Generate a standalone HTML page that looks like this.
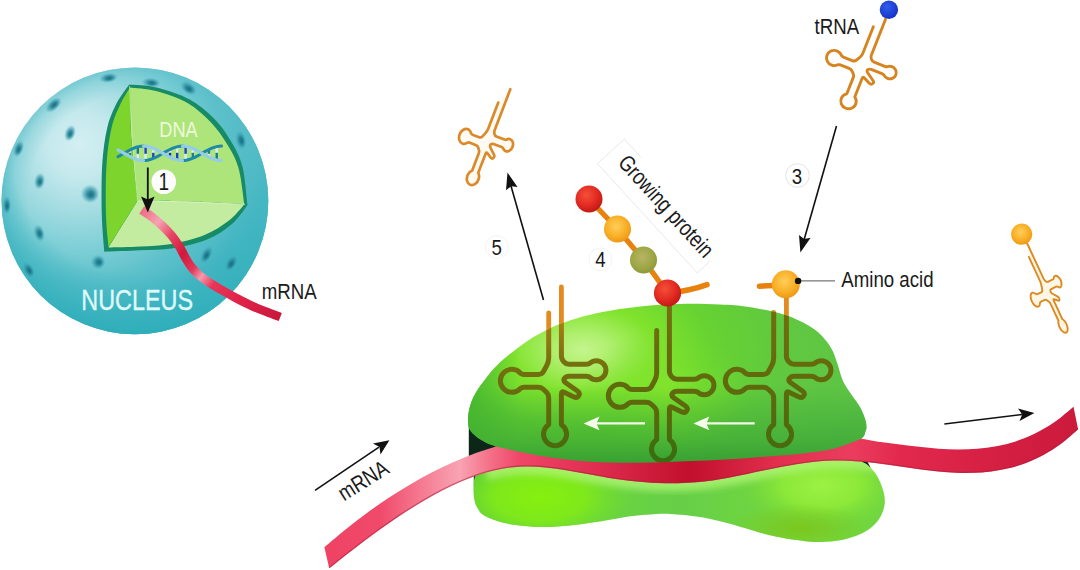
<!DOCTYPE html>
<html lang="en">
<head>
<meta charset="utf-8">
<title>Protein synthesis: transcription and translation</title>
<style>
html,body{margin:0;padding:0;background:#fff;}
body{width:1080px;height:570px;overflow:hidden;font-family:"Liberation Sans",sans-serif;}
svg{display:block;}
text{font-family:"Liberation Sans",sans-serif;}
</style>
</head>
<body>
<svg width="1080" height="570" viewBox="0 0 1080 570">
<defs>
  <radialGradient id="gSphere" gradientUnits="userSpaceOnUse" cx="82" cy="145" r="215" fx="80" fy="145">
    <stop offset="0" stop-color="#D3EFF2"/>
    <stop offset="0.15" stop-color="#C5E9ED"/>
    <stop offset="0.35" stop-color="#9BD9DF"/>
    <stop offset="0.5" stop-color="#7ACDD5"/>
    <stop offset="0.65" stop-color="#5CC0CA"/>
    <stop offset="0.82" stop-color="#49B8C4"/>
    <stop offset="1" stop-color="#34B1BD"/>
  </radialGradient>
  <radialGradient id="gSphereRim" gradientUnits="userSpaceOnUse" cx="134.9" cy="200.8" r="133.4">
    <stop offset="0" stop-color="#5FC2CC" stop-opacity="0"/>
    <stop offset="0.8" stop-color="#5FC2CC" stop-opacity="0"/>
    <stop offset="0.93" stop-color="#5CC0CA" stop-opacity="0.3"/>
    <stop offset="1" stop-color="#58BDC8" stop-opacity="0.6"/>
  </radialGradient>
  <radialGradient id="gSphereSh" gradientUnits="userSpaceOnUse" cx="135" cy="150" r="186">
    <stop offset="0" stop-color="#2FAFBB" stop-opacity="0"/>
    <stop offset="0.66" stop-color="#2FAFBB" stop-opacity="0"/>
    <stop offset="0.8" stop-color="#33B0BC" stop-opacity="0.45"/>
    <stop offset="1" stop-color="#2BADB9" stop-opacity="0.95"/>
  </radialGradient>
  <radialGradient id="gDimple" cx="0.5" cy="0.5" r="0.5" fx="0.56" fy="0.56">
    <stop offset="0" stop-color="#14677C" stop-opacity="0.95"/>
    <stop offset="0.35" stop-color="#1F7C90" stop-opacity="0.85"/>
    <stop offset="0.65" stop-color="#3197A8" stop-opacity="0.55"/>
    <stop offset="1" stop-color="#4FB0BE" stop-opacity="0"/>
  </radialGradient>
  <radialGradient id="gUpper" gradientUnits="userSpaceOnUse" cx="583" cy="350" r="290" gradientTransform="translate(583 350) scale(1 0.6) translate(-583 -350)">
    <stop offset="0" stop-color="#C4F58E"/>
    <stop offset="0.1" stop-color="#AEEF6C"/>
    <stop offset="0.25" stop-color="#80E32C"/>
    <stop offset="0.45" stop-color="#66D232"/>
    <stop offset="0.7" stop-color="#60C840"/>
    <stop offset="1" stop-color="#5DC446"/>
  </radialGradient>
  <linearGradient id="gUpperSh" gradientUnits="userSpaceOnUse" x1="0" y1="385" x2="0" y2="475">
    <stop offset="0" stop-color="#2E9A30" stop-opacity="0"/>
    <stop offset="0.6" stop-color="#2E9A30" stop-opacity="0.48"/>
    <stop offset="1" stop-color="#258C2C" stop-opacity="0.85"/>
  </linearGradient>
  <linearGradient id="gUpperL" gradientUnits="userSpaceOnUse" x1="466" y1="0" x2="520" y2="0">
    <stop offset="0" stop-color="#3FB02E" stop-opacity="0.7"/>
    <stop offset="1" stop-color="#3FB02E" stop-opacity="0"/>
  </linearGradient>
  <radialGradient id="gLowA" gradientUnits="userSpaceOnUse" cx="540" cy="497" r="95" gradientTransform="translate(540 497) scale(1 0.5) translate(-540 -497)">
    <stop offset="0" stop-color="#86F00E"/>
    <stop offset="0.5" stop-color="#80EA18" stop-opacity="0.9"/>
    <stop offset="1" stop-color="#6FDA30" stop-opacity="0"/>
  </radialGradient>
  <radialGradient id="gLowB" gradientUnits="userSpaceOnUse" cx="822" cy="486" r="80" gradientTransform="translate(822 486) scale(1 0.55) translate(-822 -486)">
    <stop offset="0" stop-color="#9CF244"/>
    <stop offset="0.5" stop-color="#8EEA38" stop-opacity="0.9"/>
    <stop offset="1" stop-color="#78DA3A" stop-opacity="0"/>
  </radialGradient>
  <radialGradient id="gLowC" gradientUnits="userSpaceOnUse" cx="800" cy="528" r="70" gradientTransform="translate(800 528) scale(1 0.35) translate(-800 -528)">
    <stop offset="0" stop-color="#7CC41A" stop-opacity="0.85"/>
    <stop offset="1" stop-color="#7CC41A" stop-opacity="0"/>
  </radialGradient>
  <filter id="fBlur" x="-20%" y="-50%" width="140%" height="200%"><feGaussianBlur stdDeviation="3.5"/></filter>
  <clipPath id="cLower"><path d="M473.80 484.00 C473.55 487.50 473.47 493.17 474.00 497.00 C474.53 500.83 475.17 503.83 477.00 507.00 C478.83 510.17 480.00 513.25 485.00 516.00 C490.00 518.75 497.83 521.67 507.00 523.50 C516.17 525.33 529.50 526.67 540.00 527.00 C550.50 527.33 560.67 526.33 570.00 525.50 C579.33 524.67 586.17 523.50 596.00 522.00 C605.83 520.50 620.00 517.75 629.00 516.50 C638.00 515.25 643.17 514.92 650.00 514.50 C656.83 514.08 661.67 513.58 670.00 514.00 C678.33 514.42 690.50 515.50 700.00 517.00 C709.50 518.50 715.17 519.92 727.00 523.00 C738.83 526.08 758.83 532.58 771.00 535.50 C783.17 538.42 791.83 539.42 800.00 540.50 C808.17 541.58 813.00 542.08 820.00 542.00 C827.00 541.92 835.25 541.33 842.00 540.00 C848.75 538.67 855.33 536.33 860.50 534.00 C865.67 531.67 869.65 528.92 873.00 526.00 C876.35 523.08 878.68 520.00 880.60 516.50 C882.52 513.00 883.93 508.75 884.50 505.00 C885.07 501.25 884.75 497.83 884.00 494.00 C883.25 490.17 881.50 485.50 880.00 482.00 C878.50 478.50 876.70 475.47 875.00 473.00 C873.30 470.53 871.80 468.95 869.80 467.20 C867.80 465.45 867.97 464.53 863.00 462.50 C858.03 460.47 867.17 453.75 840.00 455.00 C812.83 456.25 746.67 468.83 700.00 470.00 C653.33 471.17 593.33 463.00 560.00 462.00 C526.67 461.00 513.00 462.67 500.00 464.00 C487.00 465.33 486.08 468.00 482.00 470.00 C477.92 472.00 476.87 473.67 475.50 476.00 C474.13 478.33 474.05 480.50 473.80 484.00 Z"/></clipPath>
  <linearGradient id="gLower" gradientUnits="userSpaceOnUse" x1="474" y1="0" x2="884" y2="0">
    <stop offset="0" stop-color="#5CCB3A"/>
    <stop offset="0.15" stop-color="#6CD83A"/>
    <stop offset="0.5" stop-color="#66CF48"/>
    <stop offset="0.8" stop-color="#74D83C"/>
    <stop offset="1" stop-color="#70D640"/>
  </linearGradient>
  <linearGradient id="gRib" gradientUnits="userSpaceOnUse" x1="324" y1="0" x2="1078" y2="0">
    <stop offset="0" stop-color="#EF4265"/>
    <stop offset="0.074" stop-color="#F04A6A"/>
    <stop offset="0.135" stop-color="#F57F95"/>
    <stop offset="0.18" stop-color="#F9A3B3"/>
    <stop offset="0.22" stop-color="#F47088"/>
    <stop offset="0.26" stop-color="#EF4668"/>
    <stop offset="0.366" stop-color="#DE2C4E"/>
    <stop offset="0.485" stop-color="#C10F2D"/>
    <stop offset="0.605" stop-color="#E2304F"/>
    <stop offset="0.70" stop-color="#EA3D5E"/>
    <stop offset="0.764" stop-color="#E2294D"/>
    <stop offset="0.897" stop-color="#D41F42"/>
    <stop offset="1" stop-color="#CC1A3C"/>
  </linearGradient>
  <linearGradient id="gRibN" gradientUnits="userSpaceOnUse" x1="141" y1="210" x2="282" y2="316">
    <stop offset="0" stop-color="#EC6A82"/>
    <stop offset="0.12" stop-color="#F6A3B2"/>
    <stop offset="0.22" stop-color="#E84666"/>
    <stop offset="0.34" stop-color="#D2183B"/>
    <stop offset="0.44" stop-color="#E33A5B"/>
    <stop offset="0.5" stop-color="#F69AAC"/>
    <stop offset="0.58" stop-color="#E83557"/>
    <stop offset="0.75" stop-color="#E02448"/>
    <stop offset="1" stop-color="#C8173C"/>
  </linearGradient>
  <radialGradient id="gRed" cx="0.4" cy="0.35" r="0.65">
    <stop offset="0" stop-color="#F5503A"/>
    <stop offset="0.6" stop-color="#E32B22"/>
    <stop offset="1" stop-color="#C21A16"/>
  </radialGradient>
  <radialGradient id="gYel" cx="0.45" cy="0.4" r="0.65">
    <stop offset="0" stop-color="#FFCF5A"/>
    <stop offset="0.6" stop-color="#F9AE26"/>
    <stop offset="1" stop-color="#EB9413"/>
  </radialGradient>
  <radialGradient id="gOlv" cx="0.45" cy="0.4" r="0.65">
    <stop offset="0" stop-color="#B7B565"/>
    <stop offset="0.6" stop-color="#9FA746"/>
    <stop offset="1" stop-color="#8B9636"/>
  </radialGradient>
  <radialGradient id="gBlue" cx="0.4" cy="0.35" r="0.65">
    <stop offset="0" stop-color="#2F5FEA"/>
    <stop offset="1" stop-color="#1533C8"/>
  </radialGradient>
  <linearGradient id="gT" gradientUnits="userSpaceOnUse" x1="0" y1="305" x2="0" y2="450">
    <stop offset="0" stop-color="#BC841A"/>
    <stop offset="0.18" stop-color="#9C7B14"/>
    <stop offset="0.4" stop-color="#76700F"/>
    <stop offset="0.75" stop-color="#5F680C"/>
    <stop offset="1" stop-color="#4A6A0E"/>
  </linearGradient>
  <linearGradient id="gT2" gradientUnits="userSpaceOnUse" x1="0" y1="310" x2="0" y2="462">
    <stop offset="0" stop-color="#747010"/>
    <stop offset="0.3" stop-color="#666B0E"/>
    <stop offset="0.7" stop-color="#5A680C"/>
    <stop offset="1" stop-color="#366E10"/>
  </linearGradient>
  <linearGradient id="gT3" gradientUnits="userSpaceOnUse" x1="0" y1="305" x2="0" y2="450">
    <stop offset="0" stop-color="#726F0F"/>
    <stop offset="0.5" stop-color="#62690D"/>
    <stop offset="1" stop-color="#486A0E"/>
  </linearGradient>
  <radialGradient id="gUpperG" gradientUnits="userSpaceOnUse" cx="668" cy="392" r="85" gradientTransform="translate(668 392) scale(1 0.75) translate(-668 -392)">
    <stop offset="0" stop-color="#8CEA2A" stop-opacity="0.7"/>
    <stop offset="0.5" stop-color="#80E42C" stop-opacity="0.35"/>
    <stop offset="1" stop-color="#74DC30" stop-opacity="0"/>
  </radialGradient>
  <clipPath id="cUpper"><path d="M468.00 421.00 C467.82 417.17 468.33 412.50 469.50 408.00 C470.67 403.50 472.42 398.75 475.00 394.00 C477.58 389.25 481.12 384.50 485.00 379.50 C488.88 374.50 492.73 369.33 498.30 364.00 C503.87 358.67 511.78 352.42 518.40 347.50 C525.02 342.58 530.42 338.67 538.00 334.50 C545.58 330.33 553.57 326.17 563.90 322.50 C574.23 318.83 587.32 315.17 600.00 312.50 C612.68 309.83 626.67 307.92 640.00 306.50 C653.33 305.08 666.67 304.33 680.00 304.00 C693.33 303.67 708.50 304.00 720.00 304.50 C731.50 305.00 738.00 305.20 749.00 307.00 C760.00 308.80 775.50 311.85 786.00 315.30 C796.50 318.75 805.50 323.68 812.00 327.70 C818.50 331.72 821.55 335.52 825.00 339.40 C828.45 343.28 830.62 346.90 832.70 351.00 C834.78 355.10 835.78 359.00 837.50 364.00 C839.22 369.00 840.75 376.00 843.00 381.00 C845.25 386.00 848.17 389.67 851.00 394.00 C853.83 398.33 857.67 402.92 860.00 407.00 C862.33 411.08 863.92 415.28 865.00 418.50 C866.08 421.72 866.40 424.17 866.50 426.30 C866.60 428.43 866.45 429.23 865.60 431.30 C864.75 433.37 865.67 435.25 861.40 438.70 C857.13 442.15 851.90 448.45 840.00 452.00 C828.10 455.55 813.33 457.33 790.00 460.00 C766.67 462.67 731.67 466.67 700.00 468.00 C668.33 469.33 626.67 469.33 600.00 468.00 C573.33 466.67 557.33 463.60 540.00 460.00 C522.67 456.40 505.63 449.63 496.00 446.40 C486.37 443.17 486.43 443.17 482.20 440.60 C477.97 438.03 472.97 434.27 470.60 431.00 C468.23 427.73 468.18 424.83 468.00 421.00 Z"/></clipPath>
  <clipPath id="cSphere"><circle cx="134.9" cy="200.8" r="133.4"/></clipPath>
</defs>

<!-- ================= NUCLEUS ================= -->
<g id="nucleus">
  <circle cx="134.9" cy="200.8" r="133.4" fill="url(#gSphere)"/>
  <circle cx="134.9" cy="200.8" r="133.4" fill="url(#gSphereRim)"/>
  <circle cx="134.9" cy="200.8" r="133.4" fill="url(#gSphereSh)"/>
  <g clip-path="url(#cSphere)" id="dimples">
    <ellipse cx="0" cy="0" rx="9.5" ry="5" transform="translate(108.3 77.8) rotate(-8)" fill="url(#gDimple)"/>
    <ellipse cx="0" cy="0" rx="10" ry="5.5" transform="translate(53.3 105) rotate(-42)" fill="url(#gDimple)"/>
    <ellipse cx="0" cy="0" rx="9.5" ry="5" transform="translate(151 82.5) rotate(5)" fill="url(#gDimple)"/>
    <ellipse cx="0" cy="0" rx="9.5" ry="6" transform="translate(188.5 88) rotate(35)" fill="url(#gDimple)"/>
    <ellipse cx="0" cy="0" rx="5.5" ry="10" transform="translate(240.8 140) rotate(-12)" fill="url(#gDimple)"/>
    <ellipse cx="0" cy="0" rx="5.5" ry="8.5" transform="translate(70 133) rotate(20)" fill="url(#gDimple)"/>
    <ellipse cx="0" cy="0" rx="5" ry="9" transform="translate(18.5 148.5) rotate(20)" fill="url(#gDimple)"/>
    <ellipse cx="0" cy="0" rx="5.5" ry="8.5" transform="translate(39.5 181) rotate(10)" fill="url(#gDimple)"/>
    <ellipse cx="0" cy="0" rx="9.5" ry="9.5" transform="translate(90 193.7) rotate(0)" fill="url(#gDimple)"/>
    <ellipse cx="0" cy="0" rx="4.5" ry="9.5" transform="translate(6.7 205) rotate(0)" fill="url(#gDimple)"/>
    <ellipse cx="0" cy="0" rx="5.5" ry="9" transform="translate(39 233) rotate(-15)" fill="url(#gDimple)"/>
    <ellipse cx="0" cy="0" rx="7.5" ry="7.5" transform="translate(98 262) rotate(-30)" fill="url(#gDimple)"/>
    <ellipse cx="0" cy="0" rx="5.5" ry="9" transform="translate(28.5 270) rotate(-28)" fill="url(#gDimple)"/>
    <ellipse cx="0" cy="0" rx="5.5" ry="10" transform="translate(206.5 254.5) rotate(28)" fill="url(#gDimple)"/>
    <ellipse cx="0" cy="0" rx="5.5" ry="9.5" transform="translate(231.3 263) rotate(32)" fill="url(#gDimple)"/>
  </g>
  <g id="wedge">
    <path d="M129.20 84.50 C133.75 85.00 146.48 85.03 156.50 87.50 C166.52 89.97 179.72 94.13 189.30 99.30 C198.88 104.47 207.13 111.63 214.00 118.50 C220.87 125.37 225.78 132.58 230.50 140.50 C235.22 148.42 239.47 155.25 242.30 166.00 C245.13 176.75 246.63 198.50 247.50 205.00 L247.50 205.00 C244.92 208.17 238.75 218.25 232.00 224.00 C225.25 229.75 216.83 235.47 207.00 239.50 C197.17 243.53 184.17 246.40 173.00 248.20 C161.83 250.00 151.45 249.72 140.00 250.30 C128.55 250.88 110.25 251.47 104.30 251.70 L104.30 251.70 C103.88 245.58 102.15 229.45 101.80 215.00 C101.45 200.55 101.30 179.50 102.20 165.00 C103.10 150.50 104.82 138.25 107.20 128.00 C109.58 117.75 112.83 110.75 116.50 103.50 C120.17 96.25 127.08 87.67 129.20 84.50 Z" fill="#178A66"/>
    <path d="M130.00 87.50 C134.33 88.08 146.42 88.42 156.00 91.00 C165.58 93.58 178.33 97.75 187.50 103.00 C196.67 108.25 204.42 115.67 211.00 122.50 C217.58 129.33 222.42 136.42 227.00 144.00 C231.58 151.58 235.62 158.00 238.50 168.00 C241.38 178.00 243.33 198.00 244.30 204.00 L244.30 204.00 C235.25 203.58 207.80 202.03 190.00 201.50 C172.20 200.97 146.25 200.92 137.50 200.80 L137.50 200.80 C136.50 190.67 132.75 158.88 131.50 140.00 C130.25 121.12 130.25 96.25 130.00 87.50 Z" fill="#ADE57A"/>
    <path d="M137.50 200.80 C146.25 200.92 172.20 200.88 190.00 201.50 C207.80 202.12 235.25 204.00 244.30 204.50 L244.30 204.50 C241.75 207.17 235.63 215.42 229.00 220.50 C222.37 225.58 214.08 231.08 204.50 235.00 C194.92 238.92 182.25 242.08 171.50 244.00 C160.75 245.92 150.50 245.92 140.00 246.50 C129.50 247.08 113.75 247.33 108.50 247.50 L108.50 247.50 C113.33 239.72 132.67 208.58 137.50 200.80 Z" fill="#C3ECA0"/>
    <path d="M130.00 87.50 C130.25 96.25 130.25 121.12 131.50 140.00 C132.75 158.88 136.50 190.67 137.50 200.80 L137.50 200.80 C132.67 208.50 113.33 239.30 108.50 247.00 L108.50 247.00 C108.08 241.67 106.33 228.67 106.00 215.00 C105.67 201.33 105.58 179.50 106.50 165.00 C107.42 150.50 109.25 138.00 111.50 128.00 C113.75 118.00 116.92 111.75 120.00 105.00 C123.08 98.25 128.33 90.42 130.00 87.50 Z" fill="#7DD42D"/>
    <path d="M129.5 86 Q131.5 140 137.5 200.8" stroke="#C9F0A8" stroke-width="0.8" fill="none" opacity="0.8"/>
    <path d="M137.5 200.8 Q190 201.5 245 204.3" stroke="#D6F3BC" stroke-width="1" fill="none" opacity="0.9"/>
  </g>
  <g id="dna" fill="none"><line x1="130" y1="150.0" x2="130" y2="156.6" stroke="#D9EEF4" stroke-width="2.4"/><line x1="130" y1="152.8" x2="130" y2="156.6" stroke="#1C7F95" stroke-width="2.4"/><line x1="137.8" y1="146.8" x2="137.8" y2="159.8" stroke="#D9EEF4" stroke-width="2.4"/><line x1="137.8" y1="146.8" x2="137.8" y2="153.8" stroke="#17778C" stroke-width="2.4"/><line x1="145.6" y1="146.2" x2="145.6" y2="160.4" stroke="#D9EEF4" stroke-width="2.4"/><line x1="145.6" y1="146.2" x2="145.6" y2="153.8" stroke="#1F3FC0" stroke-width="2.4"/><line x1="153.3" y1="148.2" x2="153.3" y2="158.4" stroke="#D9EEF4" stroke-width="2.4"/><line x1="153.3" y1="152.8" x2="153.3" y2="158.4" stroke="#1F3FC0" stroke-width="2.4"/><line x1="170" y1="149.5" x2="170" y2="157.1" stroke="#D9EEF4" stroke-width="2.4"/><line x1="170" y1="152.8" x2="170" y2="157.1" stroke="#1B2FA8" stroke-width="2.4"/><line x1="177.2" y1="146.7" x2="177.2" y2="159.9" stroke="#D9EEF4" stroke-width="2.4"/><line x1="177.2" y1="152.8" x2="177.2" y2="159.9" stroke="#1F3FC0" stroke-width="2.4"/><line x1="185.6" y1="146.3" x2="185.6" y2="160.3" stroke="#D9EEF4" stroke-width="2.4"/><line x1="185.6" y1="146.3" x2="185.6" y2="153.8" stroke="#1F3FC0" stroke-width="2.4"/><line x1="192.8" y1="148.4" x2="192.8" y2="158.2" stroke="#D9EEF4" stroke-width="2.4"/><line x1="192.8" y1="152.8" x2="192.8" y2="158.2" stroke="#1C7F95" stroke-width="2.4"/><line x1="208.9" y1="149.5" x2="208.9" y2="157.1" stroke="#D9EEF4" stroke-width="2.4"/><line x1="208.9" y1="149.5" x2="208.9" y2="153.8" stroke="#1C7F95" stroke-width="2.4"/><line x1="216.7" y1="146.6" x2="216.7" y2="160.0" stroke="#D9EEF4" stroke-width="2.4"/><line x1="216.7" y1="152.8" x2="216.7" y2="160.0" stroke="#17778C" stroke-width="2.4"/><path d="M118.0 156.6 L119.6 155.8 L121.2 154.9 L122.8 154.0 L124.4 153.1 L126.0 152.2 L127.6 151.3 L129.2 150.4 L130.8 149.6 L132.3 148.8 L133.9 148.1 L135.5 147.5 L137.1 147.0 L138.7 146.6 L140.3 146.3 L141.9 146.2 L143.5 146.1" stroke="#1F8AA8" stroke-width="3" stroke-linecap="round"/><path d="M143.5 160.5 L145.9 160.4 L148.4 160.0 L150.8 159.3 L153.2 158.4 L155.7 157.3 L158.1 156.1 L160.6 154.7 L163.0 153.3 L165.4 151.9 L167.9 150.5 L170.3 149.3 L172.8 148.2 L175.2 147.3 L177.6 146.6 L180.1 146.2 L182.5 146.1" stroke="#1F8AA8" stroke-width="3" stroke-linecap="round"/><path d="M182.5 160.5 L184.9 160.4 L187.4 160.0 L189.8 159.3 L192.2 158.4 L194.7 157.3 L197.1 156.1 L199.6 154.7 L202.0 153.3 L204.4 151.9 L206.9 150.5 L209.3 149.3 L211.8 148.2 L214.2 147.3 L216.6 146.6 L219.1 146.2 L221.5 146.1" stroke="#1F8AA8" stroke-width="3" stroke-linecap="round"/><path d="M118.0 150.0 L119.6 150.8 L121.2 151.7 L122.8 152.6 L124.4 153.5 L126.0 154.4 L127.6 155.3 L129.2 156.2 L130.8 157.0 L132.3 157.8 L133.9 158.5 L135.5 159.1 L137.1 159.6 L138.7 160.0 L140.3 160.3 L141.9 160.4 L143.5 160.5" stroke="#93CDEA" stroke-width="3.2" stroke-linecap="round"/><path d="M143.5 146.1 L145.9 146.2 L148.4 146.6 L150.8 147.3 L153.2 148.2 L155.7 149.3 L158.1 150.5 L160.6 151.9 L163.0 153.3 L165.4 154.7 L167.9 156.1 L170.3 157.3 L172.8 158.4 L175.2 159.3 L177.6 160.0 L180.1 160.4 L182.5 160.5" stroke="#93CDEA" stroke-width="3.2" stroke-linecap="round"/><path d="M182.5 146.1 L184.9 146.2 L187.4 146.6 L189.8 147.3 L192.2 148.2 L194.7 149.3 L197.1 150.5 L199.6 151.9 L202.0 153.3 L204.4 154.7 L206.9 156.1 L209.3 157.3 L211.8 158.4 L214.2 159.3 L216.6 160.0 L219.1 160.4 L221.5 160.5" stroke="#93CDEA" stroke-width="3.2" stroke-linecap="round"/></g>
  <path d="M141.70 210.00 C143.42 211.17 148.40 214.22 152.00 217.00 C155.60 219.78 159.97 223.53 163.30 226.70 C166.63 229.87 169.30 232.67 172.00 236.00 C174.70 239.33 177.33 243.20 179.50 246.70 C181.67 250.20 183.08 253.70 185.00 257.00 C186.92 260.30 188.67 263.50 191.00 266.50 C193.33 269.50 195.83 272.25 199.00 275.00 C202.17 277.75 206.00 280.37 210.00 283.00 C214.00 285.63 218.67 288.30 223.00 290.80 C227.33 293.30 231.67 295.72 236.00 298.00 C240.33 300.28 244.72 302.50 249.00 304.50 C253.28 306.50 258.03 308.50 261.70 310.00 C265.37 311.50 267.90 312.33 271.00 313.50 C274.10 314.67 278.75 316.42 280.30 317.00" fill="none" stroke="url(#gRibN)" stroke-width="8.8"/>
  <line x1="147.8" y1="167.5" x2="147.8" y2="200" stroke="#111" stroke-width="1.8"/>
  <path d="M147.8 212.5 L141 196.5 L147.8 199.5 L154.6 196.5 Z" fill="#111"/>
  <circle cx="163.8" cy="181.7" r="12.3" fill="#FDFEFB"/>
  <text transform="translate(163.8 190) rotate(0) scale(0.83 1)" font-size="23" fill="#1a1a1a" text-anchor="middle" >1</text>
  <text transform="translate(159.2 136.7) rotate(0) scale(0.83 1)" font-size="22" fill="#EDF9DA" text-anchor="start" >DNA</text>
  <text transform="translate(81.3 310.2) rotate(0) scale(0.78 1)" font-size="30" fill="#DFFAFA" text-anchor="start" stroke="#DFFAFA" stroke-width="0.4">NUCLEUS</text>
</g>

<!-- ================= RIBOSOME ================= -->
<g id="ribosome">
  <path d="M468.8 422 L500 440 L500 472 L482 472 L478 486 L473.8 486 L473.8 470 L468.8 458 Z" fill="#0C2618"/>
  <path d="M855 452 L866 459 L870.5 467.5 L855 466 Z" fill="#0C2618"/>
  <g fill="none" stroke="#E38B1E" stroke-width="4.8" stroke-linejoin="round" stroke-linecap="round">
    <path d="M548.7 312.8 L548.7 358 Q548.7 362 546.5 366 L543.5 371.5 Q542 374.5 538 374.5 L524 374.5 Q522 374.5 520.5 373.3 A11.5 11.5 0 1 0 520.5 388.4 Q522 387.2 524 387.2 L538 387.2 Q541 387.2 543 389 L546.7 392.5 Q548.7 394.5 548.7 398 L548.7 424.6 A11.5 11.5 0 1 0 561.4 424.6 L561.4 394 Q561.4 391 564 392.2 L573.5 396.8 Q577.5 398.5 579 395.3 Q580.2 392.8 577.5 391 L566 383 Q562.8 380.5 564.5 378.3 Q566 376.3 569 376.3 L586 376.3 Q588 376.3 589.5 377 A9.6 9.6 0 1 0 589.5 363.5 Q588 364.2 586 364.2 L569 364.2 Q566 364.2 564 362 Q561.4 359.5 561.4 356 L561.4 287"/><path d="M656.7 330.5 L656.7 373 Q656.7 377 654.5 381 L651.5 386.5 Q650 389.5 646 389.5 L632 389.5 Q630 389.5 628.5 388.3 A11.5 11.5 0 1 0 628.5 403.4 Q630 402.2 632 402.2 L646 402.2 Q649 402.2 651 404 L654.7 407.5 Q656.7 409.5 656.7 413 L656.7 439.6 A11.5 11.5 0 1 0 669.4 439.6 L669.4 409 Q669.4 406 672 407.2 L681.5 411.8 Q685.5 413.5 687 410.3 Q688.2 407.8 685.5 406 L674 398 Q670.8 395.5 672.5 393.3 Q674 391.3 677 391.3 L694 391.3 Q696 391.3 697.5 392 A9.6 9.6 0 1 0 697.5 378.5 Q696 379.2 694 379.2 L677 379.2 Q674 379.2 672 377 Q669.4 374.5 669.4 371 L669.4 300"/><path d="M773.7 312.5 L773.7 358 Q773.7 362 771.5 366 L768.5 371.5 Q767 374.5 763 374.5 L749 374.5 Q747 374.5 745.5 373.3 A11.5 11.5 0 1 0 745.5 388.4 Q747 387.2 749 387.2 L763 387.2 Q766 387.2 768 389 L771.7 392.5 Q773.7 394.5 773.7 398 L773.7 424.6 A11.5 11.5 0 1 0 786.4 424.6 L786.4 394 Q786.4 391 789 392.2 L798.5 396.8 Q802.5 398.5 804 395.3 Q805.2 392.8 802.5 391 L791 383 Q787.8 380.5 789.5 378.3 Q791 376.3 794 376.3 L811 376.3 Q813 376.3 814.5 377 A9.6 9.6 0 1 0 814.5 363.5 Q813 364.2 811 364.2 L794 364.2 Q791 364.2 789 362 Q786.4 359.5 786.4 356 L786.4 290"/>
  </g>
  <path d="M473.80 484.00 C473.55 487.50 473.47 493.17 474.00 497.00 C474.53 500.83 475.17 503.83 477.00 507.00 C478.83 510.17 480.00 513.25 485.00 516.00 C490.00 518.75 497.83 521.67 507.00 523.50 C516.17 525.33 529.50 526.67 540.00 527.00 C550.50 527.33 560.67 526.33 570.00 525.50 C579.33 524.67 586.17 523.50 596.00 522.00 C605.83 520.50 620.00 517.75 629.00 516.50 C638.00 515.25 643.17 514.92 650.00 514.50 C656.83 514.08 661.67 513.58 670.00 514.00 C678.33 514.42 690.50 515.50 700.00 517.00 C709.50 518.50 715.17 519.92 727.00 523.00 C738.83 526.08 758.83 532.58 771.00 535.50 C783.17 538.42 791.83 539.42 800.00 540.50 C808.17 541.58 813.00 542.08 820.00 542.00 C827.00 541.92 835.25 541.33 842.00 540.00 C848.75 538.67 855.33 536.33 860.50 534.00 C865.67 531.67 869.65 528.92 873.00 526.00 C876.35 523.08 878.68 520.00 880.60 516.50 C882.52 513.00 883.93 508.75 884.50 505.00 C885.07 501.25 884.75 497.83 884.00 494.00 C883.25 490.17 881.50 485.50 880.00 482.00 C878.50 478.50 876.70 475.47 875.00 473.00 C873.30 470.53 871.80 468.95 869.80 467.20 C867.80 465.45 867.97 464.53 863.00 462.50 C858.03 460.47 867.17 453.75 840.00 455.00 C812.83 456.25 746.67 468.83 700.00 470.00 C653.33 471.17 593.33 463.00 560.00 462.00 C526.67 461.00 513.00 462.67 500.00 464.00 C487.00 465.33 486.08 468.00 482.00 470.00 C477.92 472.00 476.87 473.67 475.50 476.00 C474.13 478.33 474.05 480.50 473.80 484.00 Z" fill="url(#gLower)"/>
  <path d="M473.80 484.00 C473.55 487.50 473.47 493.17 474.00 497.00 C474.53 500.83 475.17 503.83 477.00 507.00 C478.83 510.17 480.00 513.25 485.00 516.00 C490.00 518.75 497.83 521.67 507.00 523.50 C516.17 525.33 529.50 526.67 540.00 527.00 C550.50 527.33 560.67 526.33 570.00 525.50 C579.33 524.67 586.17 523.50 596.00 522.00 C605.83 520.50 620.00 517.75 629.00 516.50 C638.00 515.25 643.17 514.92 650.00 514.50 C656.83 514.08 661.67 513.58 670.00 514.00 C678.33 514.42 690.50 515.50 700.00 517.00 C709.50 518.50 715.17 519.92 727.00 523.00 C738.83 526.08 758.83 532.58 771.00 535.50 C783.17 538.42 791.83 539.42 800.00 540.50 C808.17 541.58 813.00 542.08 820.00 542.00 C827.00 541.92 835.25 541.33 842.00 540.00 C848.75 538.67 855.33 536.33 860.50 534.00 C865.67 531.67 869.65 528.92 873.00 526.00 C876.35 523.08 878.68 520.00 880.60 516.50 C882.52 513.00 883.93 508.75 884.50 505.00 C885.07 501.25 884.75 497.83 884.00 494.00 C883.25 490.17 881.50 485.50 880.00 482.00 C878.50 478.50 876.70 475.47 875.00 473.00 C873.30 470.53 871.80 468.95 869.80 467.20 C867.80 465.45 867.97 464.53 863.00 462.50 C858.03 460.47 867.17 453.75 840.00 455.00 C812.83 456.25 746.67 468.83 700.00 470.00 C653.33 471.17 593.33 463.00 560.00 462.00 C526.67 461.00 513.00 462.67 500.00 464.00 C487.00 465.33 486.08 468.00 482.00 470.00 C477.92 472.00 476.87 473.67 475.50 476.00 C474.13 478.33 474.05 480.50 473.80 484.00 Z" fill="url(#gLowA)"/>
  <path d="M473.80 484.00 C473.55 487.50 473.47 493.17 474.00 497.00 C474.53 500.83 475.17 503.83 477.00 507.00 C478.83 510.17 480.00 513.25 485.00 516.00 C490.00 518.75 497.83 521.67 507.00 523.50 C516.17 525.33 529.50 526.67 540.00 527.00 C550.50 527.33 560.67 526.33 570.00 525.50 C579.33 524.67 586.17 523.50 596.00 522.00 C605.83 520.50 620.00 517.75 629.00 516.50 C638.00 515.25 643.17 514.92 650.00 514.50 C656.83 514.08 661.67 513.58 670.00 514.00 C678.33 514.42 690.50 515.50 700.00 517.00 C709.50 518.50 715.17 519.92 727.00 523.00 C738.83 526.08 758.83 532.58 771.00 535.50 C783.17 538.42 791.83 539.42 800.00 540.50 C808.17 541.58 813.00 542.08 820.00 542.00 C827.00 541.92 835.25 541.33 842.00 540.00 C848.75 538.67 855.33 536.33 860.50 534.00 C865.67 531.67 869.65 528.92 873.00 526.00 C876.35 523.08 878.68 520.00 880.60 516.50 C882.52 513.00 883.93 508.75 884.50 505.00 C885.07 501.25 884.75 497.83 884.00 494.00 C883.25 490.17 881.50 485.50 880.00 482.00 C878.50 478.50 876.70 475.47 875.00 473.00 C873.30 470.53 871.80 468.95 869.80 467.20 C867.80 465.45 867.97 464.53 863.00 462.50 C858.03 460.47 867.17 453.75 840.00 455.00 C812.83 456.25 746.67 468.83 700.00 470.00 C653.33 471.17 593.33 463.00 560.00 462.00 C526.67 461.00 513.00 462.67 500.00 464.00 C487.00 465.33 486.08 468.00 482.00 470.00 C477.92 472.00 476.87 473.67 475.50 476.00 C474.13 478.33 474.05 480.50 473.80 484.00 Z" fill="url(#gLowB)"/>
  <path d="M473.80 484.00 C473.55 487.50 473.47 493.17 474.00 497.00 C474.53 500.83 475.17 503.83 477.00 507.00 C478.83 510.17 480.00 513.25 485.00 516.00 C490.00 518.75 497.83 521.67 507.00 523.50 C516.17 525.33 529.50 526.67 540.00 527.00 C550.50 527.33 560.67 526.33 570.00 525.50 C579.33 524.67 586.17 523.50 596.00 522.00 C605.83 520.50 620.00 517.75 629.00 516.50 C638.00 515.25 643.17 514.92 650.00 514.50 C656.83 514.08 661.67 513.58 670.00 514.00 C678.33 514.42 690.50 515.50 700.00 517.00 C709.50 518.50 715.17 519.92 727.00 523.00 C738.83 526.08 758.83 532.58 771.00 535.50 C783.17 538.42 791.83 539.42 800.00 540.50 C808.17 541.58 813.00 542.08 820.00 542.00 C827.00 541.92 835.25 541.33 842.00 540.00 C848.75 538.67 855.33 536.33 860.50 534.00 C865.67 531.67 869.65 528.92 873.00 526.00 C876.35 523.08 878.68 520.00 880.60 516.50 C882.52 513.00 883.93 508.75 884.50 505.00 C885.07 501.25 884.75 497.83 884.00 494.00 C883.25 490.17 881.50 485.50 880.00 482.00 C878.50 478.50 876.70 475.47 875.00 473.00 C873.30 470.53 871.80 468.95 869.80 467.20 C867.80 465.45 867.97 464.53 863.00 462.50 C858.03 460.47 867.17 453.75 840.00 455.00 C812.83 456.25 746.67 468.83 700.00 470.00 C653.33 471.17 593.33 463.00 560.00 462.00 C526.67 461.00 513.00 462.67 500.00 464.00 C487.00 465.33 486.08 468.00 482.00 470.00 C477.92 472.00 476.87 473.67 475.50 476.00 C474.13 478.33 474.05 480.50 473.80 484.00 Z" fill="url(#gLowC)"/>
  <g clip-path="url(#cLower)"><path d="M886.52 464.49 C883.62 464.14 874.91 462.95 869.10 462.35 C863.30 461.76 857.49 461.22 851.69 460.92 C845.88 460.62 840.08 460.45 834.27 460.55 C828.47 460.65 822.66 461.00 816.86 461.51 C811.05 462.03 805.24 462.78 799.44 463.64 C793.63 464.50 787.83 465.56 782.02 466.65 C776.22 467.74 770.41 468.99 764.61 470.21 C758.80 471.42 753.00 472.73 747.19 473.94 C741.39 475.15 735.58 476.38 729.77 477.46 C723.97 478.54 718.16 479.58 712.36 480.39 C706.55 481.21 700.75 481.90 694.94 482.37 C689.14 482.84 683.33 483.12 677.53 483.24 C671.72 483.36 665.91 483.29 660.11 483.09 C654.30 482.89 648.50 482.52 642.69 482.03 C636.89 481.55 631.08 480.92 625.28 480.19 C619.47 479.46 613.67 478.59 607.86 477.65 C602.06 476.72 596.25 475.62 590.44 474.58 C584.64 473.53 578.83 472.37 573.03 471.38 C567.22 470.38 561.42 469.36 555.61 468.61 C549.81 467.85 544.00 467.16 538.20 466.83 C532.39 466.50 526.58 466.34 520.78 466.61 C514.97 466.89 509.17 467.49 503.36 468.48 C497.56 469.46 488.85 471.84 485.95 472.51" fill="none" stroke="#B4F678" stroke-width="16" opacity="0.75" filter="url(#fBlur)"/></g>
  <path d="M468.00 421.00 C467.82 417.17 468.33 412.50 469.50 408.00 C470.67 403.50 472.42 398.75 475.00 394.00 C477.58 389.25 481.12 384.50 485.00 379.50 C488.88 374.50 492.73 369.33 498.30 364.00 C503.87 358.67 511.78 352.42 518.40 347.50 C525.02 342.58 530.42 338.67 538.00 334.50 C545.58 330.33 553.57 326.17 563.90 322.50 C574.23 318.83 587.32 315.17 600.00 312.50 C612.68 309.83 626.67 307.92 640.00 306.50 C653.33 305.08 666.67 304.33 680.00 304.00 C693.33 303.67 708.50 304.00 720.00 304.50 C731.50 305.00 738.00 305.20 749.00 307.00 C760.00 308.80 775.50 311.85 786.00 315.30 C796.50 318.75 805.50 323.68 812.00 327.70 C818.50 331.72 821.55 335.52 825.00 339.40 C828.45 343.28 830.62 346.90 832.70 351.00 C834.78 355.10 835.78 359.00 837.50 364.00 C839.22 369.00 840.75 376.00 843.00 381.00 C845.25 386.00 848.17 389.67 851.00 394.00 C853.83 398.33 857.67 402.92 860.00 407.00 C862.33 411.08 863.92 415.28 865.00 418.50 C866.08 421.72 866.40 424.17 866.50 426.30 C866.60 428.43 866.45 429.23 865.60 431.30 C864.75 433.37 865.67 435.25 861.40 438.70 C857.13 442.15 851.90 448.45 840.00 452.00 C828.10 455.55 813.33 457.33 790.00 460.00 C766.67 462.67 731.67 466.67 700.00 468.00 C668.33 469.33 626.67 469.33 600.00 468.00 C573.33 466.67 557.33 463.60 540.00 460.00 C522.67 456.40 505.63 449.63 496.00 446.40 C486.37 443.17 486.43 443.17 482.20 440.60 C477.97 438.03 472.97 434.27 470.60 431.00 C468.23 427.73 468.18 424.83 468.00 421.00 Z" fill="url(#gUpper)"/>
  <path d="M468.00 421.00 C467.82 417.17 468.33 412.50 469.50 408.00 C470.67 403.50 472.42 398.75 475.00 394.00 C477.58 389.25 481.12 384.50 485.00 379.50 C488.88 374.50 492.73 369.33 498.30 364.00 C503.87 358.67 511.78 352.42 518.40 347.50 C525.02 342.58 530.42 338.67 538.00 334.50 C545.58 330.33 553.57 326.17 563.90 322.50 C574.23 318.83 587.32 315.17 600.00 312.50 C612.68 309.83 626.67 307.92 640.00 306.50 C653.33 305.08 666.67 304.33 680.00 304.00 C693.33 303.67 708.50 304.00 720.00 304.50 C731.50 305.00 738.00 305.20 749.00 307.00 C760.00 308.80 775.50 311.85 786.00 315.30 C796.50 318.75 805.50 323.68 812.00 327.70 C818.50 331.72 821.55 335.52 825.00 339.40 C828.45 343.28 830.62 346.90 832.70 351.00 C834.78 355.10 835.78 359.00 837.50 364.00 C839.22 369.00 840.75 376.00 843.00 381.00 C845.25 386.00 848.17 389.67 851.00 394.00 C853.83 398.33 857.67 402.92 860.00 407.00 C862.33 411.08 863.92 415.28 865.00 418.50 C866.08 421.72 866.40 424.17 866.50 426.30 C866.60 428.43 866.45 429.23 865.60 431.30 C864.75 433.37 865.67 435.25 861.40 438.70 C857.13 442.15 851.90 448.45 840.00 452.00 C828.10 455.55 813.33 457.33 790.00 460.00 C766.67 462.67 731.67 466.67 700.00 468.00 C668.33 469.33 626.67 469.33 600.00 468.00 C573.33 466.67 557.33 463.60 540.00 460.00 C522.67 456.40 505.63 449.63 496.00 446.40 C486.37 443.17 486.43 443.17 482.20 440.60 C477.97 438.03 472.97 434.27 470.60 431.00 C468.23 427.73 468.18 424.83 468.00 421.00 Z" fill="url(#gUpperG)"/>
  <path d="M468.00 421.00 C467.82 417.17 468.33 412.50 469.50 408.00 C470.67 403.50 472.42 398.75 475.00 394.00 C477.58 389.25 481.12 384.50 485.00 379.50 C488.88 374.50 492.73 369.33 498.30 364.00 C503.87 358.67 511.78 352.42 518.40 347.50 C525.02 342.58 530.42 338.67 538.00 334.50 C545.58 330.33 553.57 326.17 563.90 322.50 C574.23 318.83 587.32 315.17 600.00 312.50 C612.68 309.83 626.67 307.92 640.00 306.50 C653.33 305.08 666.67 304.33 680.00 304.00 C693.33 303.67 708.50 304.00 720.00 304.50 C731.50 305.00 738.00 305.20 749.00 307.00 C760.00 308.80 775.50 311.85 786.00 315.30 C796.50 318.75 805.50 323.68 812.00 327.70 C818.50 331.72 821.55 335.52 825.00 339.40 C828.45 343.28 830.62 346.90 832.70 351.00 C834.78 355.10 835.78 359.00 837.50 364.00 C839.22 369.00 840.75 376.00 843.00 381.00 C845.25 386.00 848.17 389.67 851.00 394.00 C853.83 398.33 857.67 402.92 860.00 407.00 C862.33 411.08 863.92 415.28 865.00 418.50 C866.08 421.72 866.40 424.17 866.50 426.30 C866.60 428.43 866.45 429.23 865.60 431.30 C864.75 433.37 865.67 435.25 861.40 438.70 C857.13 442.15 851.90 448.45 840.00 452.00 C828.10 455.55 813.33 457.33 790.00 460.00 C766.67 462.67 731.67 466.67 700.00 468.00 C668.33 469.33 626.67 469.33 600.00 468.00 C573.33 466.67 557.33 463.60 540.00 460.00 C522.67 456.40 505.63 449.63 496.00 446.40 C486.37 443.17 486.43 443.17 482.20 440.60 C477.97 438.03 472.97 434.27 470.60 431.00 C468.23 427.73 468.18 424.83 468.00 421.00 Z" fill="url(#gUpperSh)"/>
  <path d="M468.00 421.00 C467.82 417.17 468.33 412.50 469.50 408.00 C470.67 403.50 472.42 398.75 475.00 394.00 C477.58 389.25 481.12 384.50 485.00 379.50 C488.88 374.50 492.73 369.33 498.30 364.00 C503.87 358.67 511.78 352.42 518.40 347.50 C525.02 342.58 530.42 338.67 538.00 334.50 C545.58 330.33 553.57 326.17 563.90 322.50 C574.23 318.83 587.32 315.17 600.00 312.50 C612.68 309.83 626.67 307.92 640.00 306.50 C653.33 305.08 666.67 304.33 680.00 304.00 C693.33 303.67 708.50 304.00 720.00 304.50 C731.50 305.00 738.00 305.20 749.00 307.00 C760.00 308.80 775.50 311.85 786.00 315.30 C796.50 318.75 805.50 323.68 812.00 327.70 C818.50 331.72 821.55 335.52 825.00 339.40 C828.45 343.28 830.62 346.90 832.70 351.00 C834.78 355.10 835.78 359.00 837.50 364.00 C839.22 369.00 840.75 376.00 843.00 381.00 C845.25 386.00 848.17 389.67 851.00 394.00 C853.83 398.33 857.67 402.92 860.00 407.00 C862.33 411.08 863.92 415.28 865.00 418.50 C866.08 421.72 866.40 424.17 866.50 426.30 C866.60 428.43 866.45 429.23 865.60 431.30 C864.75 433.37 865.67 435.25 861.40 438.70 C857.13 442.15 851.90 448.45 840.00 452.00 C828.10 455.55 813.33 457.33 790.00 460.00 C766.67 462.67 731.67 466.67 700.00 468.00 C668.33 469.33 626.67 469.33 600.00 468.00 C573.33 466.67 557.33 463.60 540.00 460.00 C522.67 456.40 505.63 449.63 496.00 446.40 C486.37 443.17 486.43 443.17 482.20 440.60 C477.97 438.03 472.97 434.27 470.60 431.00 C468.23 427.73 468.18 424.83 468.00 421.00 Z" fill="url(#gUpperL)"/>
  <g clip-path="url(#cUpper)" fill="none" stroke-width="5" stroke-linejoin="round" stroke-linecap="round">
    <path d="M548.7 312.8 L548.7 358 Q548.7 362 546.5 366 L543.5 371.5 Q542 374.5 538 374.5 L524 374.5 Q522 374.5 520.5 373.3 A11.5 11.5 0 1 0 520.5 388.4 Q522 387.2 524 387.2 L538 387.2 Q541 387.2 543 389 L546.7 392.5 Q548.7 394.5 548.7 398 L548.7 424.6 A11.5 11.5 0 1 0 561.4 424.6 L561.4 394 Q561.4 391 564 392.2 L573.5 396.8 Q577.5 398.5 579 395.3 Q580.2 392.8 577.5 391 L566 383 Q562.8 380.5 564.5 378.3 Q566 376.3 569 376.3 L586 376.3 Q588 376.3 589.5 377 A9.6 9.6 0 1 0 589.5 363.5 Q588 364.2 586 364.2 L569 364.2 Q566 364.2 564 362 Q561.4 359.5 561.4 356 L561.4 287" stroke="url(#gT)"/><path d="M656.7 330.5 L656.7 373 Q656.7 377 654.5 381 L651.5 386.5 Q650 389.5 646 389.5 L632 389.5 Q630 389.5 628.5 388.3 A11.5 11.5 0 1 0 628.5 403.4 Q630 402.2 632 402.2 L646 402.2 Q649 402.2 651 404 L654.7 407.5 Q656.7 409.5 656.7 413 L656.7 439.6 A11.5 11.5 0 1 0 669.4 439.6 L669.4 409 Q669.4 406 672 407.2 L681.5 411.8 Q685.5 413.5 687 410.3 Q688.2 407.8 685.5 406 L674 398 Q670.8 395.5 672.5 393.3 Q674 391.3 677 391.3 L694 391.3 Q696 391.3 697.5 392 A9.6 9.6 0 1 0 697.5 378.5 Q696 379.2 694 379.2 L677 379.2 Q674 379.2 672 377 Q669.4 374.5 669.4 371 L669.4 300" stroke="url(#gT2)"/><path d="M773.7 312.5 L773.7 358 Q773.7 362 771.5 366 L768.5 371.5 Q767 374.5 763 374.5 L749 374.5 Q747 374.5 745.5 373.3 A11.5 11.5 0 1 0 745.5 388.4 Q747 387.2 749 387.2 L763 387.2 Q766 387.2 768 389 L771.7 392.5 Q773.7 394.5 773.7 398 L773.7 424.6 A11.5 11.5 0 1 0 786.4 424.6 L786.4 394 Q786.4 391 789 392.2 L798.5 396.8 Q802.5 398.5 804 395.3 Q805.2 392.8 802.5 391 L791 383 Q787.8 380.5 789.5 378.3 Q791 376.3 794 376.3 L811 376.3 Q813 376.3 814.5 377 A9.6 9.6 0 1 0 814.5 363.5 Q813 364.2 811 364.2 L794 364.2 Q791 364.2 789 362 Q786.4 359.5 786.4 356 L786.4 290" stroke="url(#gT3)"/>
  </g>
  <path d="M324.40 547.13 C327.97 544.13 338.70 534.87 345.85 529.13 C353.00 523.39 360.15 517.92 367.30 512.70 C374.45 507.48 381.60 502.52 388.75 497.81 C395.90 493.10 403.05 488.65 410.20 484.46 C417.35 480.26 424.50 476.31 431.65 472.62 C438.80 468.92 445.95 465.48 453.10 462.27 C460.25 459.07 467.40 456.06 474.55 453.41 C481.70 450.77 492.43 447.57 496.00 446.40 L496.00 446.40 C500.68 447.46 514.74 450.89 524.11 452.78 C533.48 454.68 542.85 456.43 552.22 457.79 C561.58 459.14 570.95 460.12 580.32 460.90 C589.69 461.68 599.06 462.15 608.43 462.47 C617.80 462.78 627.17 462.84 636.54 462.80 C645.91 462.76 655.28 462.52 664.65 462.24 C674.02 461.96 683.38 461.54 692.75 461.12 C702.12 460.69 711.49 460.22 720.86 459.69 C730.23 459.16 739.60 458.59 748.97 457.95 C758.34 457.31 767.71 456.62 777.08 455.84 C786.45 455.05 795.82 454.40 805.18 453.23 C814.55 452.06 823.92 451.25 833.29 448.83 C842.66 446.41 856.72 440.39 861.40 438.70 L861.40 438.70 C864.61 439.25 874.25 441.01 880.68 441.97 C887.11 442.94 893.54 443.67 899.96 444.48 C906.39 445.30 912.82 446.17 919.25 446.87 C925.67 447.57 932.10 448.25 938.53 448.69 C944.95 449.13 951.38 449.48 957.81 449.51 C964.24 449.53 970.66 449.39 977.09 448.86 C983.52 448.33 989.95 447.56 996.37 446.32 C1002.80 445.08 1009.23 443.53 1015.65 441.41 C1022.08 439.28 1028.51 436.77 1034.94 433.59 C1041.36 430.41 1047.79 426.82 1054.22 422.34 C1060.65 417.86 1070.29 409.31 1073.50 406.70 L1078.10 429.14 C1075.20 431.60 1066.49 439.58 1060.68 443.88 C1054.88 448.18 1049.07 451.78 1043.27 454.96 C1037.46 458.14 1031.66 460.71 1025.85 462.94 C1020.05 465.17 1014.24 466.91 1008.43 468.34 C1002.63 469.77 996.82 470.77 991.02 471.52 C985.21 472.28 979.41 472.66 973.60 472.86 C967.80 473.06 961.99 472.95 956.19 472.71 C950.38 472.48 944.58 471.99 938.77 471.44 C932.96 470.89 927.16 470.15 921.35 469.40 C915.55 468.65 909.74 467.78 903.94 466.96 C898.13 466.14 892.33 465.26 886.52 464.49 C880.72 463.72 874.91 462.95 869.10 462.35 C863.30 461.76 857.49 461.22 851.69 460.92 C845.88 460.62 840.08 460.45 834.27 460.55 C828.47 460.65 822.66 461.00 816.86 461.51 C811.05 462.03 805.24 462.78 799.44 463.64 C793.63 464.50 787.83 465.56 782.02 466.65 C776.22 467.74 770.41 468.99 764.61 470.21 C758.80 471.42 753.00 472.73 747.19 473.94 C741.39 475.15 735.58 476.38 729.77 477.46 C723.97 478.54 718.16 479.58 712.36 480.39 C706.55 481.21 700.75 481.90 694.94 482.37 C689.14 482.84 683.33 483.12 677.53 483.24 C671.72 483.36 665.91 483.29 660.11 483.09 C654.30 482.89 648.50 482.52 642.69 482.03 C636.89 481.55 631.08 480.92 625.28 480.19 C619.47 479.46 613.67 478.59 607.86 477.65 C602.06 476.72 596.25 475.62 590.44 474.58 C584.64 473.53 578.83 472.37 573.03 471.38 C567.22 470.38 561.42 469.36 555.61 468.61 C549.81 467.85 544.00 467.16 538.20 466.83 C532.39 466.50 526.58 466.34 520.78 466.61 C514.97 466.89 509.17 467.49 503.36 468.48 C497.56 469.46 491.75 470.85 485.95 472.51 C480.14 474.17 474.34 476.20 468.53 478.45 C462.72 480.71 456.92 483.28 451.11 486.05 C445.31 488.81 439.50 491.84 433.70 495.02 C427.89 498.21 422.09 501.60 416.28 505.14 C410.48 508.68 404.67 512.41 398.87 516.26 C393.06 520.11 387.25 524.13 381.45 528.26 C375.64 532.39 369.84 536.66 364.03 541.02 C358.23 545.38 352.42 549.87 346.62 554.42 C340.81 558.97 332.10 566.02 329.20 568.34 Z" fill="url(#gRib)"/>
  <path d="M1078.10 428.54 C1075.20 431.00 1066.49 438.98 1060.68 443.28 C1054.88 447.58 1049.07 451.18 1043.27 454.36 C1037.46 457.54 1031.66 460.11 1025.85 462.34 C1020.05 464.57 1014.24 466.31 1008.43 467.74 C1002.63 469.17 996.82 470.17 991.02 470.92 C985.21 471.68 979.41 472.06 973.60 472.26 C967.80 472.46 961.99 472.35 956.19 472.11 C950.38 471.88 944.58 471.39 938.77 470.84 C932.96 470.29 927.16 469.55 921.35 468.80 C915.55 468.05 909.74 467.18 903.94 466.36 C898.13 465.54 892.33 464.66 886.52 463.89 C880.72 463.12 874.91 462.35 869.10 461.75 C863.30 461.16 857.49 460.62 851.69 460.32 C845.88 460.02 840.08 459.85 834.27 459.95 C828.47 460.05 822.66 460.40 816.86 460.91 C811.05 461.43 805.24 462.18 799.44 463.04 C793.63 463.90 787.83 464.96 782.02 466.05 C776.22 467.14 770.41 468.39 764.61 469.61 C758.80 470.82 753.00 472.13 747.19 473.34 C741.39 474.55 735.58 475.78 729.77 476.86 C723.97 477.94 718.16 478.98 712.36 479.79 C706.55 480.61 700.75 481.30 694.94 481.77 C689.14 482.24 683.33 482.52 677.53 482.64 C671.72 482.76 665.91 482.69 660.11 482.49 C654.30 482.29 648.50 481.92 642.69 481.43 C636.89 480.95 631.08 480.32 625.28 479.59 C619.47 478.86 613.67 477.99 607.86 477.05 C602.06 476.12 596.25 475.02 590.44 473.98 C584.64 472.93 578.83 471.77 573.03 470.78 C567.22 469.78 561.42 468.76 555.61 468.01 C549.81 467.25 544.00 466.56 538.20 466.23 C532.39 465.90 526.58 465.74 520.78 466.01 C514.97 466.29 509.17 466.89 503.36 467.88 C497.56 468.86 491.75 470.25 485.95 471.91 C480.14 473.57 474.34 475.60 468.53 477.85 C462.72 480.11 456.92 482.68 451.11 485.45 C445.31 488.21 439.50 491.24 433.70 494.42 C427.89 497.61 422.09 501.00 416.28 504.54 C410.48 508.08 404.67 511.81 398.87 515.66 C393.06 519.51 387.25 523.53 381.45 527.66 C375.64 531.79 369.84 536.06 364.03 540.42 C358.23 544.78 352.42 549.27 346.62 553.82 C340.81 558.37 332.10 565.42 329.20 567.74" fill="none" stroke="#B01C3C" stroke-width="1.3" opacity="0.55"/>
  <g stroke="#F4FBEA" stroke-width="2.2" fill="#F4FBEA">
    <line x1="645" y1="423.4" x2="596" y2="423.4"/>
    <path d="M583.5 423.4 L599.5 416.6 L596.5 423.4 L599.5 430.2 Z" stroke="none"/>
    <line x1="754.7" y1="423.4" x2="706" y2="423.4"/>
    <path d="M693.4 423.4 L709.4 416.6 L706.4 423.4 L709.4 430.2 Z" stroke="none"/>
  </g>
</g>

<!-- ================= PROTEIN / AMINO ACIDS ================= -->
<g id="protein">
  <path d="M589 199 L617.5 229 L643.5 260 L667.5 293" stroke="#E8820F" stroke-width="5.3" fill="none" stroke-linecap="round"/>
  <path d="M667.5 293 Q690 291 707 284.7" stroke="#E8820F" stroke-width="5.5" fill="none" stroke-linecap="round"/>
  <circle cx="589" cy="199" r="13.5" fill="url(#gRed)"/>
  <circle cx="617.5" cy="229" r="13.5" fill="url(#gYel)"/>
  <circle cx="643.5" cy="260" r="13.5" fill="url(#gOlv)"/>
  <circle cx="667.5" cy="293" r="13.6" fill="url(#gRed)"/>
  <path d="M785.8 285 L759.5 286.2" stroke="#E8820F" stroke-width="5.5" fill="none" stroke-linecap="round"/>
  <circle cx="785.8" cy="284.3" r="14" fill="url(#gYel)"/>
  <line x1="798" y1="280.9" x2="835" y2="280.9" stroke="#555" stroke-width="1"/>
  <circle cx="798.1" cy="280.9" r="3.2" fill="#111"/>
</g>

<!-- ================= FREE tRNAs ================= -->
<g id="trnas">
  <g transform="translate(486.4 142.5) rotate(21) scale(0.51 0.67)"><path d="M-6.3 -62 L-6.3 -20 Q-6.3 -16 -8.5 -12 L-11.5 -6.5 Q-13 -3.5 -17 -3.5 L-31 -3.5 Q-33 -3.5 -34.5 -4.7 A11.5 11.5 0 1 0 -34.5 10.4 Q-33 9.2 -31 9.2 L-17 9.2 Q-14 9.2 -12 11 L-8.3 14.5 Q-6.3 16.5 -6.3 20 L-6.3 46.6 A11.5 11.5 0 1 0 6.4 46.6 L6.4 16 Q6.4 13 9 14.2 L18.5 18.8 Q22.5 20.5 24 17.3 Q25.2 14.8 22.5 13 L11 5 Q7.8 2.5 9.5 0.3 Q11 -1.7 14 -1.7 L31 -1.7 Q33 -1.7 34.5 -1 A9.6 9.6 0 1 0 34.5 -14.5 Q33 -13.8 31 -13.8 L14 -13.8 Q11 -13.8 9 -16 Q6.4 -18.5 6.4 -22 L6.4 -87" fill="#FFFBF2" stroke="#DA8A2A" stroke-width="2.7" vector-effect="non-scaling-stroke" stroke-linejoin="round" stroke-linecap="round"/></g>
  <g transform="translate(862 67) rotate(21.6) scale(0.675 0.655)"><path d="M-6.3 -63.4 L-6.3 -20 Q-6.3 -16 -8.5 -12 L-11.5 -6.5 Q-13 -3.5 -17 -3.5 L-31 -3.5 Q-33 -3.5 -34.5 -4.7 A11.5 11.5 0 1 0 -34.5 10.4 Q-33 9.2 -31 9.2 L-17 9.2 Q-14 9.2 -12 11 L-8.3 14.5 Q-6.3 16.5 -6.3 20 L-6.3 46.6 A11.5 11.5 0 1 0 6.4 46.6 L6.4 16 Q6.4 13 9 14.2 L18.5 18.8 Q22.5 20.5 24 17.3 Q25.2 14.8 22.5 13 L11 5 Q7.8 2.5 9.5 0.3 Q11 -1.7 14 -1.7 L31 -1.7 Q33 -1.7 34.5 -1 A9.6 9.6 0 1 0 34.5 -14.5 Q33 -13.8 31 -13.8 L14 -13.8 Q11 -13.8 9 -16 Q6.4 -18.5 6.4 -22 L6.4 -81" fill="#FFFFFF" stroke="#D58420" stroke-width="2.9" vector-effect="non-scaling-stroke" stroke-linejoin="round" stroke-linecap="round"/></g>
  <circle cx="888.9" cy="9.7" r="9.2" fill="url(#gBlue)"/>
  <g transform="translate(1047.4 292) rotate(-24.9) scale(0.33 0.66)"><path d="M-6.3 -60 L-6.3 -20 Q-6.3 -16 -8.5 -12 L-11.5 -6.5 Q-13 -3.5 -17 -3.5 L-31 -3.5 Q-33 -3.5 -34.5 -4.7 A11.5 11.5 0 1 0 -34.5 10.4 Q-33 9.2 -31 9.2 L-17 9.2 Q-14 9.2 -12 11 L-8.3 14.5 Q-6.3 16.5 -6.3 20 L-6.3 46.6 A11.5 11.5 0 1 0 6.4 46.6 L6.4 16 Q6.4 13 9 14.2 L18.5 18.8 Q22.5 20.5 24 17.3 Q25.2 14.8 22.5 13 L11 5 Q7.8 2.5 9.5 0.3 Q11 -1.7 14 -1.7 L31 -1.7 Q33 -1.7 34.5 -1 A9.6 9.6 0 1 0 34.5 -14.5 Q33 -13.8 31 -13.8 L14 -13.8 Q11 -13.8 9 -16 Q6.4 -18.5 6.4 -22 L6.4 -82" fill="#FFF6E6" stroke="#DD8A22" stroke-width="1.9" vector-effect="non-scaling-stroke" stroke-linejoin="round" stroke-linecap="round"/></g>
  <circle cx="1021.7" cy="234.2" r="10.6" fill="url(#gYel)"/>
</g>

<!-- ================= ARROWS ================= -->
<g id="arrows" stroke="#111" stroke-width="1.6" fill="#111">
  <line x1="543.5" y1="300" x2="511" y2="186"/>
  <path d="M507.5 172.5 L517.5 187 L511.2 186.2 L506 190.2 Z" stroke="none"/>
  <line x1="836.5" y1="126" x2="804" y2="240"/>
  <path d="M800.4 252.6 L799 235 L804.2 239 L810.6 237.8 Z" stroke="none"/>
  <line x1="315" y1="490.3" x2="379" y2="447.2"/>
  <path d="M389.4 440.2 L380.5 454.5 L379.5 447 L373 443.5 Z" stroke="none"/>
  <line x1="944.4" y1="424" x2="1022" y2="414.5"/>
  <path d="M1034.4 413 L1019.5 421 L1022.2 414.5 L1018 408.5 Z" stroke="none"/>
</g>

<!-- ================= LABELS ================= -->
<g id="labels">
  <text transform="translate(261.7 298.7) rotate(0) scale(0.83 1)" font-size="22.5" fill="#1a1a1a" text-anchor="start" >mRNA</text>
  <text transform="translate(814.5 33.7) rotate(0) scale(0.83 1)" font-size="22.5" fill="#1a1a1a" text-anchor="start" >tRNA</text>
  <text transform="translate(841.3 287.2) rotate(0) scale(0.83 1)" font-size="22.5" fill="#1a1a1a" text-anchor="start" >Amino acid</text>
  <text transform="translate(344 501.5) rotate(-32) scale(0.83 1)" font-size="22.5" fill="#1a1a1a" text-anchor="start" >mRNA</text>
  <g transform="translate(615.6 162) rotate(47.6)">
    <path d="M-11 14.5 L137 14.5 L137 -4 M-11 14.5 L-11 -22 L14 -22" fill="none" stroke="#e4e4e4" stroke-width="0.8"/>
    <text transform="translate(2 0) scale(0.815 1)" font-size="22.5" fill="#1a1a1a">Growing protein</text>
  </g>
  <circle cx="797.5" cy="175.5" r="11.8" fill="#fff" stroke="#dcdcdc" stroke-width="0.8"/>
  <text transform="translate(797 183.5) rotate(0) scale(0.83 1)" font-size="22.5" fill="#1a1a1a" text-anchor="middle" >3</text>
  <circle cx="600.4" cy="259.4" r="11.5" fill="#fff" stroke="#f0f0f0" stroke-width="0.8"/>
  <text transform="translate(600.4 267) rotate(0) scale(0.83 1)" font-size="22.5" fill="#1a1a1a" text-anchor="middle" >4</text>
  <circle cx="496.8" cy="247" r="11.5" fill="#fff" stroke="#f0f0f0" stroke-width="0.8"/>
  <text transform="translate(496.8 254.5) rotate(0) scale(0.83 1)" font-size="22.5" fill="#1a1a1a" text-anchor="middle" >5</text>
</g>
</svg>
</body>
</html>
